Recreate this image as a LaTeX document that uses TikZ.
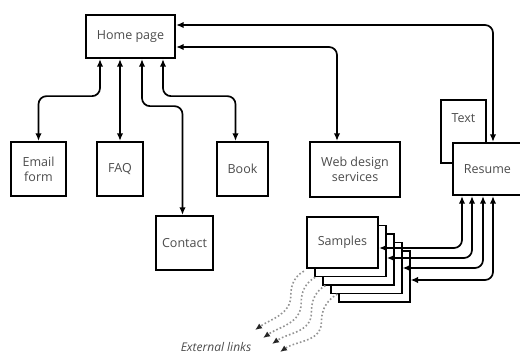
\documentclass[tikz,border=0pt]{standalone}
\usepackage{fontspec}
\setmainfont{Open Sans}
\usepackage{tikz}
\usetikzlibrary{arrows.meta}
\tikzset{
  page/.style={draw,line width=2.3pt,fill=white,text=black!70,align=center,%
    font=\fontsize{12.5}{15}\selectfont,inner sep=2pt},
  sample/.style={page,minimum width=71pt,minimum height=51pt,line width=1.2pt},
  link/.style={{Latex[length=7.5pt,width=6.5pt]}-{Latex[length=7.5pt,width=6.5pt]},%
    line width=1.7pt,rounded corners=8pt},
  extlink/.style={-{Latex[length=7pt,width=6pt,color=black!85]},draw=gray!85,%
    line width=1.6pt,dash pattern=on 1.6pt off 2.2pt},
}
\begin{document}
\begin{tikzpicture}[x=1pt,y=-1pt]
\useasboundingbox (0,0) rectangle (520,358);
% pages
\node[page,minimum width=89pt,minimum height=43pt] (home) at (130.5,36.5) {Home page};
\node[page,minimum width=55pt,minimum height=54pt] (email) at (38.5,169) {Email\\form};
\node[page,minimum width=46pt,minimum height=54pt] (faq) at (120,169) {FAQ};
\node[page,minimum width=51pt,minimum height=54pt] (book) at (242.5,169) {Book};
\node[page,minimum width=90pt,minimum height=55pt] (web) at (355,169.5) {Web design\\services};
\node[page,minimum width=57pt,minimum height=54pt] (contact) at (184.5,243) {Contact};
\node[page,minimum width=45pt,minimum height=63pt,%
  label={[anchor=north,yshift=-11pt,text=black!70,font=\fontsize{12.5}{15}\selectfont]north:Text}]
  (text) at (463.5,131.5) {};
\node[page,minimum width=69pt,minimum height=52pt] (resume) at (487.5,169) {Resume};
% samples stack
\node[sample] (s4) at (374.5,276.5) {};
\node[sample] (s3) at (366.5,268) {};
\node[sample] (s2) at (358.5,259.5) {};
\node[sample,line width=1.7pt] (s1) at (350.5,251) {};
\node[sample,line width=2.3pt] (s0) at (342.5,242.5) {Samples};
% links from home page
\draw[link] ([xshift=-30.5pt]home.south) -- ++(0,-37pt) -| (email.north);
\draw[link] (faq.north |- home.south) -- (faq.north);
\draw[link] ([xshift=11.5pt]home.south) -- ++(0,-47pt) -| ([xshift=-2pt]contact.north);
\draw[link] ([xshift=32.5pt]home.south) -- ++(0,-37pt) -| ([xshift=-7pt]book.north);
\draw[link] ([yshift=-10.5pt]home.east) -| ([xshift=-18pt]web.north);
\draw[link] ([yshift=11.5pt]home.east) -| ([xshift=5.5pt]resume.north);
% links from resume to samples
\draw[link] ([xshift=-25.5pt]resume.south) |- ([yshift=-5.5pt]s0.east);
\draw[link] ([xshift=-15.5pt]resume.south) |- ([yshift=-7pt]s1.east);
\draw[link] ([xshift=-4.5pt]resume.south) |- (s3.east);
\draw[link] ([xshift=5.5pt]resume.south) |- ([yshift=-3.5pt]s4.east);
% external links
\coordinate (ext1) at (255,330);
\coordinate (ext2) at (263,338);
\coordinate (ext3) at (272,344);
\coordinate (ext4) at (280,352);
\draw[extlink] ([shift={(-2pt,-2pt)}]s0.south west) to[out=210,in=90] ++(-13pt,-24pt)
  to[out=-90,in=35] (ext1);
\draw[extlink] ([shift={(1pt,0pt)}]s1.south west) to[out=210,in=90] ++(-14pt,-26pt)
  to[out=-90,in=35] (ext2);
\draw[extlink] ([shift={(3pt,0pt)}]s2.south west) to[out=210,in=90] ++(-14pt,-27pt)
  to[out=-90,in=35] (ext3);
\draw[extlink] ([shift={(7pt,0pt)}]s3.south west) to[out=210,in=90] ++(-16pt,-28pt)
  to[out=-90,in=35] (ext4);
\node[font=\fontsize{12}{14}\selectfont\itshape,text=black!70] (extlabel) at (216,347)
  {External links};
\end{tikzpicture}
\end{document}
